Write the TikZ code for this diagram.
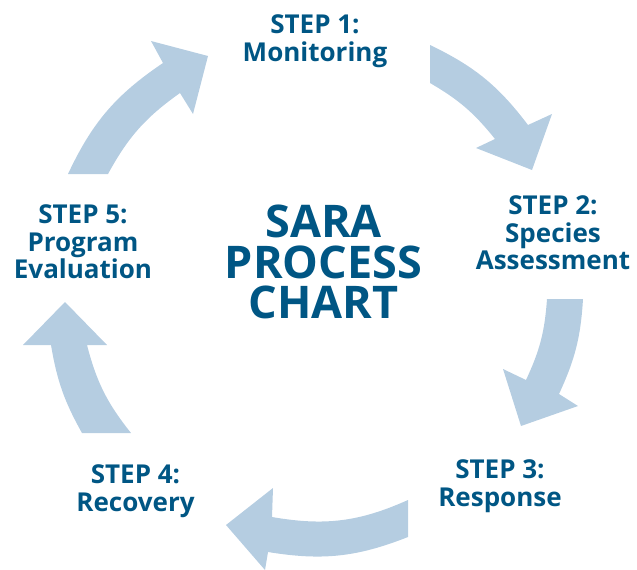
\documentclass[tikz,border=0pt]{standalone}
\usepackage{fontspec}
\setmainfont{Open Sans}
\definecolor{sarablue}{RGB}{0,86,132}
\definecolor{arrowblue}{RGB}{181,205,225}
\begin{document}
\begin{tikzpicture}[x=1pt,y=1pt,
  cyclearrow/.style={fill=arrowblue,draw=none},
  steplabel/.style={text=sarablue,font=\fontsize{26}{27.5}\selectfont\bfseries,align=center,anchor=north,inner sep=0pt},
  titlelabel/.style={text=sarablue,font=\fontsize{45}{40.5}\selectfont\bfseries,align=center,anchor=north,inner sep=0pt}]
\useasboundingbox (0,0) rectangle (637,-570);
% arrows
\fill[cyclearrow] (430,-45) to[bend left=13.6] (528,-125) -- (552,-114) -- (532,-170) -- (476,-148) -- (495,-139) to[bend right=10.5] (430,-83) -- cycle;
\fill[cyclearrow] (583,-299) to[bend left=10.7] (559,-394) -- (578,-406) -- (521,-426) -- (503,-369) -- (526,-380) to[bend right=10.5] (547,-299) -- cycle;
\fill[cyclearrow] (408,-537) to[bend left=15.4] (268,-552) -- (265,-570) -- (226,-525) -- (273,-488) -- (272,-517) to[bend right=17] (408,-500) -- cycle;
\fill[cyclearrow] (82,-433) to[bend left=9.8] (51,-345) -- (23,-345) -- (65,-302) -- (107,-345) -- (87,-345) to[bend right=12] (131,-433) -- cycle;
\fill[cyclearrow] (68,-174) to[bend left=15.4] (163,-63) -- (151,-41) -- (208,-56) -- (193,-114) -- (180,-93) to[bend right=13] (108,-174) -- cycle;
% labels
\node[steplabel] (s1) at (315,-14.5) {STEP 1:\\Monitoring};
\node[steplabel] (s2) at (553,-195.5) {STEP 2:\\Species\\Assessment};
\node[steplabel] (s3) at (500,-459.5) {STEP 3:\\Response};
\node[steplabel] (s4) at (135.5,-464.5) {STEP 4:\\Recovery};
\node[steplabel] (s5) at (83,-204.5) {STEP 5:\\Program\\Evaluation};
\node[titlelabel] (title) at (323.5,-205) {SARA\\PROCESS\\CHART};
\end{tikzpicture}
\end{document}
